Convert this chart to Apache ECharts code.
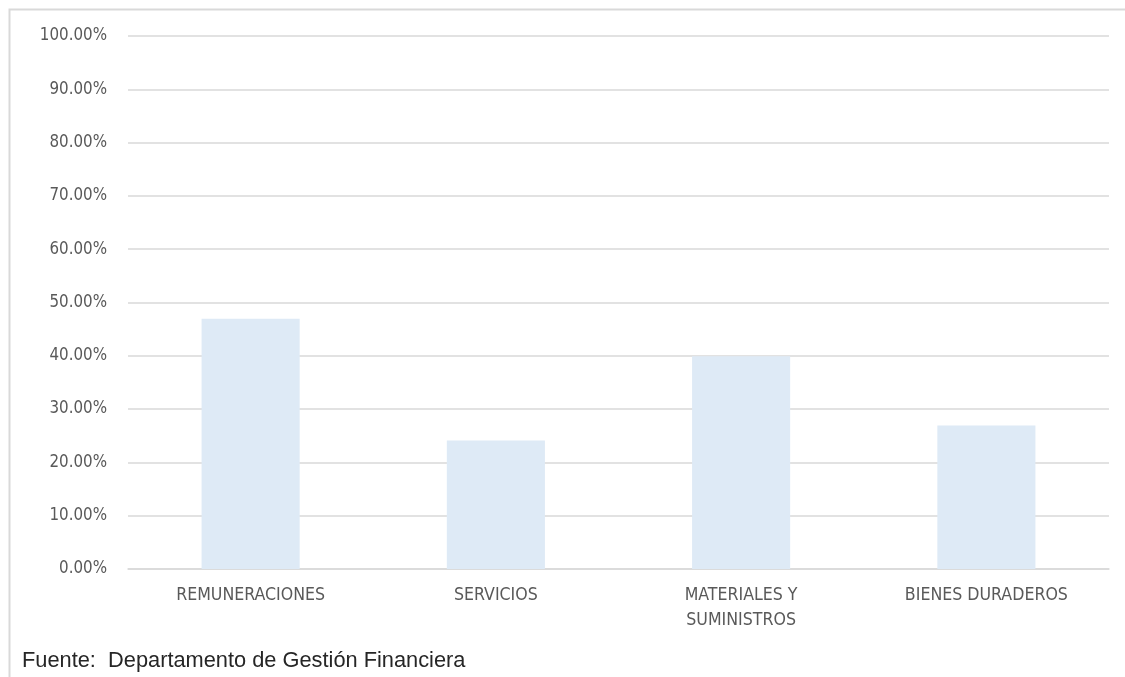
<!DOCTYPE html>
<html>
<head>
<meta charset="utf-8">
<script src="https://cdn.jsdelivr.net/npm/echarts@6/dist/echarts.min.js"></script>
<style>
html,body{margin:0;padding:0;background:#fff;}
#chart{width:1125px;height:677px;}
</style>
</head>
<body>
<div id="chart"></div>
<script>
const categories = ['REMUNERACIONES', 'SERVICIOS', 'MATERIALES Y\nSUMINISTROS', 'BIENES DURADEROS'];
const values = [46.95, 24.1, 39.9, 26.9];
const yMin = 0, yMax = 100, yInterval = 10;
const footerText = 'Fuente:  Departamento de Gestión Financiera';

const narrow = "'Liberation Sans Narrow', 'Arial Narrow', 'DejaVu Sans Condensed', sans-serif";
const chart = echarts.init(document.getElementById('chart'));
chart.setOption({
  animation: false,
  backgroundColor: '#ffffff',
  grid: { left: 128, right: 16, top: 36, bottom: 108, containLabel: false },
  xAxis: {
    type: 'category',
    data: categories,
    axisLine: { show: true, lineStyle: { color: '#d9d9d9', width: 1.5 } },
    axisTick: { show: false },
    axisLabel: { color: '#595959', fontSize: 17.6, fontFamily: narrow, margin: 14, lineHeight: 25, interval: 0 }
  },
  yAxis: {
    type: 'value',
    min: yMin, max: yMax, interval: yInterval,
    axisLine: { show: false },
    axisTick: { show: false },
    splitLine: { lineStyle: { color: '#d9d9d9', width: 1.5 } },
    axisLabel: { color: '#595959', fontSize: 16.8, fontFamily: narrow, margin: 21,
      formatter: v => v.toFixed(2) + '%' }
  },
  series: [{
    type: 'bar',
    data: values,
    barWidth: '40%',
    itemStyle: { color: '#deeaf6' }
  }],
  graphic: [
    { type: 'rect', shape: { x: 9.5, y: 9.5, width: 1200, height: 800 },
      style: { fill: 'none', stroke: '#d9d9d9', lineWidth: 2 }, silent: true },
    { type: 'text', left: 22, top: 650,
      style: { text: footerText, fill: '#262626', fontSize: 21.8, fontFamily: "'Liberation Sans', Arial, sans-serif" } }
  ]
});
</script>
</body>
</html>
